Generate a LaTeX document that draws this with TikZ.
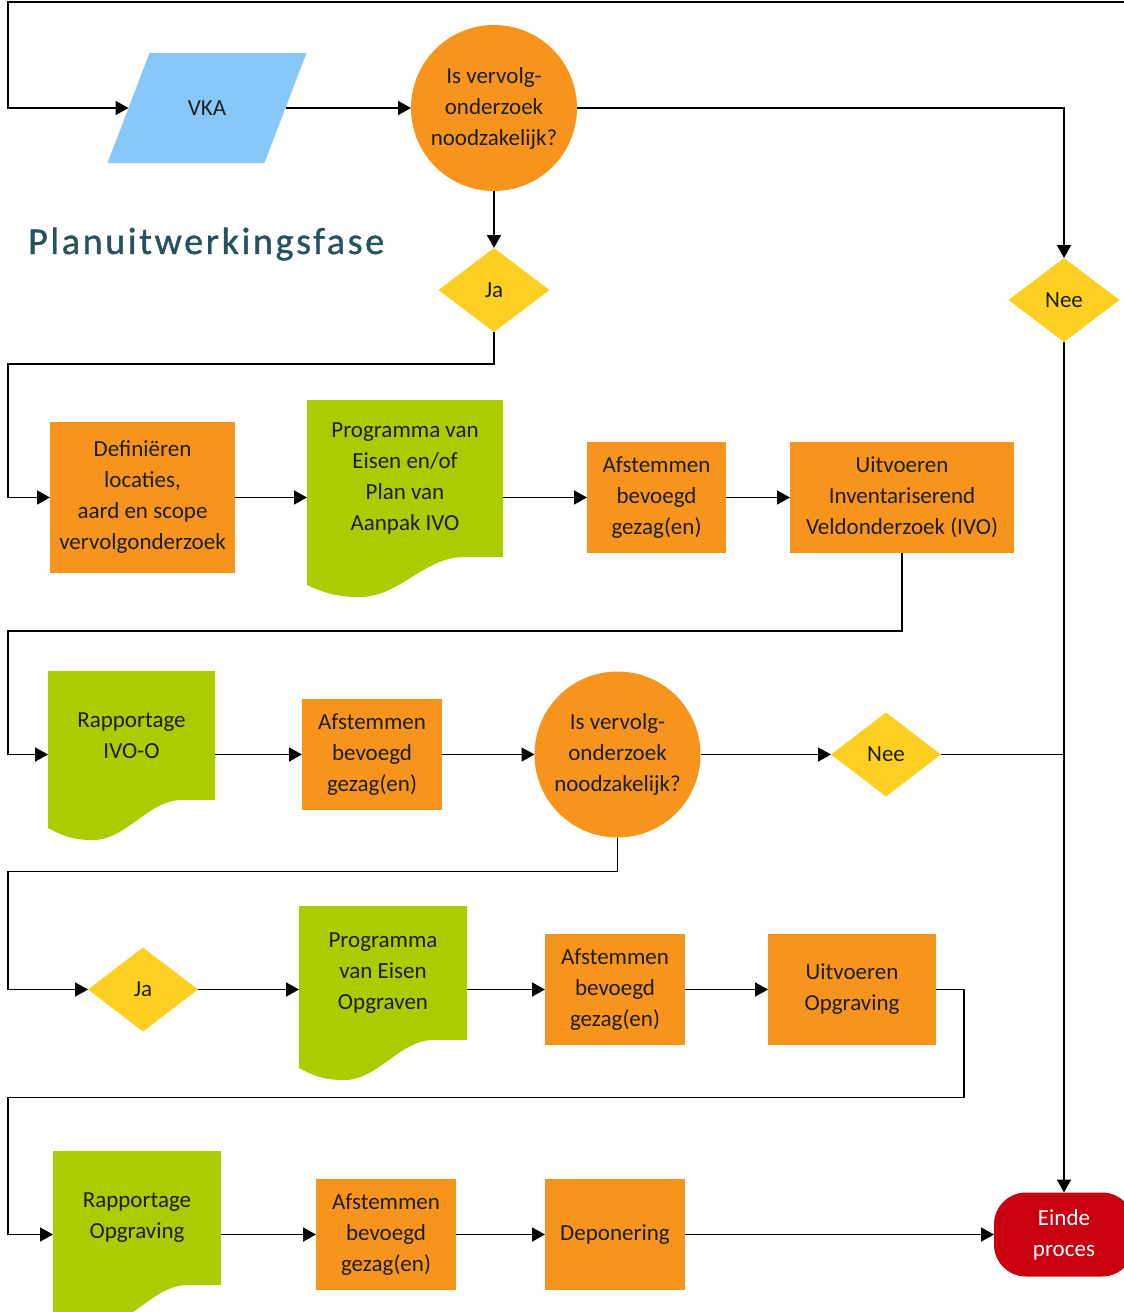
\documentclass[tikz,border=0pt]{standalone}
\usepackage{fontspec}
\setmainfont{Carlito}
\newfontfamily\headfont[LetterSpace=7,FakeBold=1]{Carlito}
\usetikzlibrary{arrows.meta,shapes.geometric,backgrounds}
\definecolor{procorange}{HTML}{F7941D}
\definecolor{docgreen}{HTML}{AACC00}
\definecolor{inputblue}{HTML}{88C8F8}
\definecolor{choiceyellow}{HTML}{FDCF22}
\definecolor{endred}{HTML}{C8000F}
\definecolor{headteal}{HTML}{27535F}
\definecolor{inktext}{HTML}{1E1E1E}
\tikzset{
  base/.style={inner sep=0pt, outer sep=0pt, align=center, text=inktext, font=\fontsize{23}{31}\selectfont},
  procbox/.style={base, rectangle, fill=procorange, minimum width=140, minimum height=111},
  docbox/.style={base, rectangle, fill=docgreen},
  askcircle/.style={base, circle, fill=procorange, minimum size=166},
  choice/.style={base, diamond, fill=choiceyellow, minimum width=111, minimum height=84},
  endbox/.style={base, rectangle, rounded corners=32, fill=endred, text=white, minimum width=140, minimum height=84},
  flow/.style={line width=1.8pt, draw=black, -{Triangle[length=13pt,width=14pt]}},
  plain/.style={line width=1.8pt, draw=black},
}
\newcommand{\docwave}[2]{%
  \fill[docgreen] ([shift={(0,-1)}]#1.south west) -- ([shift={(0,28)}]#1.south west)
    .. controls +(0.12*#2,11) and +(-0.08*#2,0) .. ([shift={(0.27*#2,40)}]#1.south west)
    .. controls +(0.2*#2,0) and +(-0.2*#2,0) .. ([shift={(0.8*#2,0)}]#1.south west)
    -- ([shift={(0,-1)}]#1.south east) -- cycle;}
\begin{document}
\begin{tikzpicture}[x=1pt,y=-1pt]
    \useasboundingbox (0,0) rectangle (1124,1312);
    \coordinate (rail) at (8,0);
    \coordinate (topin) at (1124,2);

    \node[base, minimum width=157, minimum height=110] (vka) at (207,108) {VKA};
    \begin{scope}[on background layer]
        \fill[inputblue] ([xshift=21pt]vka.north west) -- ([xshift=21pt]vka.north east)
            -- ([xshift=-21pt]vka.south east) -- ([xshift=-21pt]vka.south west) -- cycle;
    \end{scope}
    \node[askcircle] (q1) at (494,108) {Is vervolg-\\onderzoek\\noodzakelijk?};
    \node[anchor=base west, inner sep=0pt, text=headteal, font=\headfont\fontsize{38}{44}\selectfont] (phase) at (28,254) {Planuitwerkingsfase};
    \node[choice] (ja1) at (494,290) {Ja};
    \node[choice] (nee1) at (1064,300) {Nee};

    \node[procbox, minimum width=185, minimum height=151] (defin) at (142.5,497.5) {Definiëren\\locaties,\\aard en scope\\vervolgonderzoek};
    \node[docbox, minimum width=196, minimum height=157] (prog1) at (405,478.5) {Programma van\\Eisen en/of\\Plan van\\Aanpak IVO};
    \docwave{prog1}{196}
    \node[procbox, minimum width=139] (afst1) at (656.5,497.5) {Afstemmen\\bevoegd\\gezag(en)};
    \node[procbox, minimum width=224] (uitv1) at (902,497.5) {Uitvoeren\\Inventariserend\\Veldonderzoek (IVO)};

    \node[docbox, minimum width=167, minimum height=129] (rap1) at (131.5,735.5) {Rapportage\\IVO-O};
    \docwave{rap1}{167}
    \node[procbox] (afst2) at (372,754.5) {Afstemmen\\bevoegd\\gezag(en)};
    \node[askcircle] (q2) at (617.5,754.5) {Is vervolg-\\onderzoek\\noodzakelijk?};
    \node[choice, minimum width=110] (nee2) at (886,754.5) {Nee};

    \node[choice, minimum width=110] (ja2) at (143,989.5) {Ja};
    \node[docbox, minimum width=168, minimum height=134] (prog2) at (383,973) {Programma\\van Eisen\\Opgraven};
    \docwave{prog2}{168}
    \node[procbox] (afst3) at (615,989.5) {Afstemmen\\bevoegd\\gezag(en)};
    \node[procbox, minimum width=168] (uitv2) at (852,989.5) {Uitvoeren\\Opgraving};

    \node[docbox, minimum width=168, minimum height=134] (rap2) at (137,1218) {Rapportage\\Opgraving};
    \docwave{rap2}{168}
    \node[procbox] (afst4) at (386,1234.5) {Afstemmen\\bevoegd\\gezag(en)};
    \node[procbox] (depon) at (615,1234.5) {Deponering};
    \node[endbox] (einde) at (1064,1234.5) {Einde\\proces};

    \draw[flow] (topin) -- (topin -| rail) |- (vka.west);
    \draw[flow] (vka) -- (q1);
    \draw[flow] (q1) -| (nee1);
    \draw[flow] (q1) -- (ja1);
    \draw[flow] (ja1.south) -- ++(0,32) -| (rail |- defin) -- (defin);
    \draw[flow] (defin.east) -- (defin.east -| prog1.west);
    \draw[flow] (prog1.east |- afst1) -- (afst1);
    \draw[flow] (afst1) -- (uitv1);
    \draw[flow] (uitv1.south) -- ++(0,78) -| (rail |- afst2) -- (afst2 -| rap1.west);
    \draw[flow] (rap1.east |- afst2) -- (afst2);
    \draw[flow] (afst2) -- (q2);
    \draw[flow] (q2) -- (nee2);
    \draw[plain] (nee2) -- (nee2 -| nee1);
    \draw[flow] (nee1) -- (einde);
    \draw[flow] (q2.south) -- ++(0,34) -| (rail |- ja2) -- (ja2);
    \draw[flow] (ja2) -- (ja2 -| prog2.west);
    \draw[flow] (prog2.east |- afst3) -- (afst3);
    \draw[flow] (afst3) -- (uitv2);
    \draw[flow] (uitv2.east) -- ++(28,0) -- ++(0,108) -| (rail |- afst4) -- (afst4 -| rap2.west);
    \draw[flow] (rap2.east |- afst4) -- (afst4);
    \draw[flow] (afst4) -- (depon);
    \draw[flow] (depon) -- (einde);
\end{tikzpicture}
\end{document}
